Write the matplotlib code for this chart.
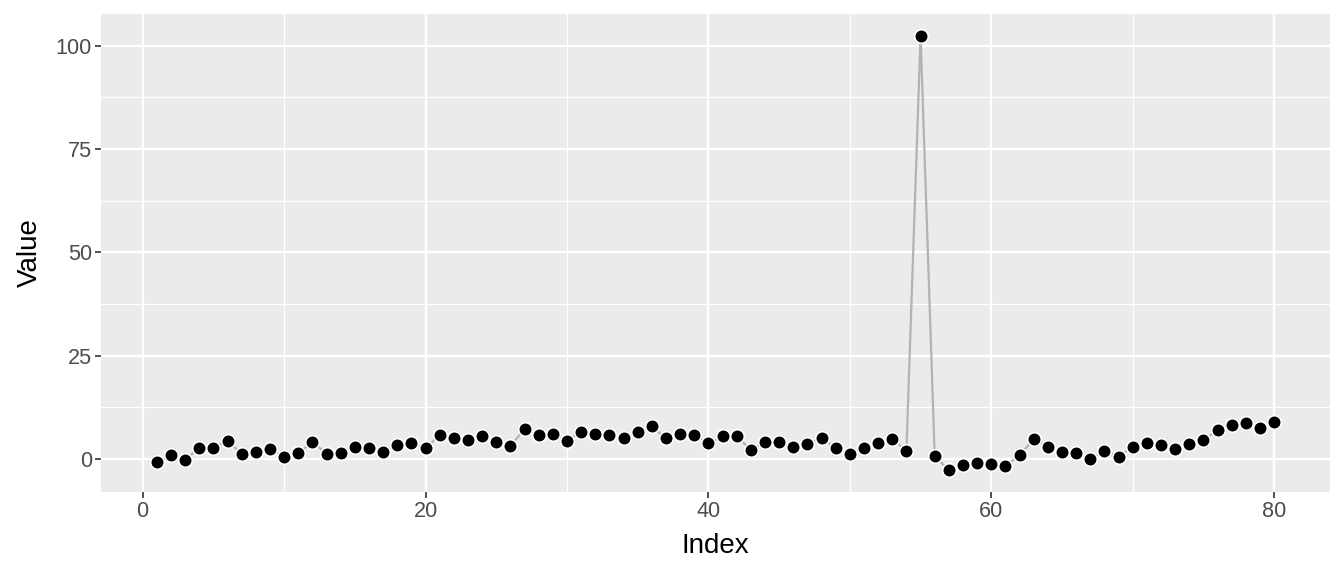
import numpy as np
import matplotlib
matplotlib.use("Agg")
import matplotlib.pyplot as plt
from matplotlib.ticker import MultipleLocator

plt.rcParams['font.family'] = ['Liberation Sans', 'DejaVu Sans']

# values
index = np.arange(1, 81)
value = [-0.7, 0.9, -0.2, 2.7, 2.7, 4.5, 1.2, 1.7, 2.5, 0.5,
         1.4, 4.2, 1.3, 1.6, 3.0, 2.7, 1.7, 3.5, 3.9, 2.6,
         5.8, 5.0, 4.6, 5.6, 4.2, 3.2, 7.3, 5.8, 6.1, 4.5,
         6.6, 6.1, 5.9, 5.2, 6.5, 7.9, 5.0, 6.1, 5.9, 3.9,
         5.5, 5.6, 2.2, 4.2, 4.1, 2.9, 3.7, 5.1, 2.8, 1.3,
         2.7, 3.9, 4.9, 2.0, 102.4, 0.8, -2.7, -1.5, -1.0, -1.1,
         -1.6, 0.9, 4.9, 3.0, 1.8, 1.4, 0.1, 2.0, 0.6, 2.9,
         3.8, 3.4, 2.4, 3.6, 4.6, 7.0, 8.2, 8.7, 7.5, 8.9]

fig = plt.figure(figsize=(13.44, 5.76), dpi=100)
ax = fig.add_axes([0.0751, 0.1458, 0.9896 - 0.0751, 0.9757 - 0.1458])
ax.set_facecolor('#EBEBEB')

ax.plot(index, value, color='#B3B3B3', lw=1.6, zorder=2)
ax.plot(index, value, 'o', ms=9.8, mfc='black', mec='white', mew=1.2, zorder=3)

# ggplot-like expansion
ymin, ymax = min(value), max(value)
dy = (ymax - ymin) * 0.05
ax.set_ylim(ymin - dy, ymax + dy)
dx = (80 - 1) * 0.05
ax.set_xlim(1 - dx, 80 + dx)

ax.xaxis.set_major_locator(MultipleLocator(20))
ax.xaxis.set_minor_locator(MultipleLocator(10))
ax.yaxis.set_major_locator(MultipleLocator(25))
ax.yaxis.set_minor_locator(MultipleLocator(12.5))
ax.grid(which='major', color='white', lw=1.6, zorder=0)
ax.grid(which='minor', color='white', lw=0.8, zorder=0)
ax.set_axisbelow(True)
for s in ax.spines.values():
    s.set_visible(False)

ax.tick_params(which='major', length=4, width=1.2, color='#333333',
               labelsize=15.6, labelcolor='#4D4D4D', pad=2.5)
ax.tick_params(which='minor', length=0)

ax.set_xlabel('Index', fontsize=20, color='black', labelpad=8)
ax.set_ylabel('Value', fontsize=20, color='black', labelpad=9)

fig.savefig('out.png', dpi=100)
